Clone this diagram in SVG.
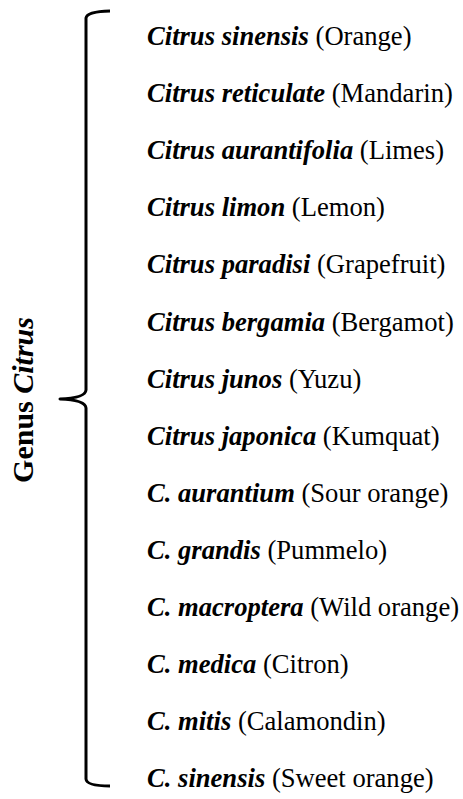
<svg xmlns="http://www.w3.org/2000/svg" width="463" height="799" viewBox="0 0 463 799">
<style>
text{font-family:"Liberation Serif","Times New Roman",serif;fill:#000}
.it{font-size:26.6px}
.b{font-weight:bold;font-style:italic}
.lab{font-size:30px;font-weight:bold}
.brace{fill:none;stroke:#000;stroke-width:3;stroke-linecap:butt;stroke-linejoin:round}
</style>
<rect width="463" height="799" fill="#fff"/>
<g id="label">
<text class="lab" transform="translate(33,400) rotate(-90)" text-anchor="middle">Genus <tspan font-style="italic">Citrus</tspan></text>
</g>
<g id="connectors">
<path class="brace" d="M110,11 Q87,11.5 86,18 L86,390 Q85.5,398 60,399 Q85.5,400 86,408 L86,779 Q86.5,786 110,786"/>
</g>
<g id="species">
<g id="s1"><text class="it" x="147" y="45"><tspan class="b">Citrus sinensis</tspan> (Orange)</text></g>
<g id="s2"><text class="it" x="147" y="102.1"><tspan class="b">Citrus reticulate</tspan> (Mandarin)</text></g>
<g id="s3"><text class="it" x="147" y="159.2"><tspan class="b">Citrus aurantifolia</tspan> (Limes)</text></g>
<g id="s4"><text class="it" x="147" y="216.3"><tspan class="b">Citrus limon</tspan> (Lemon)</text></g>
<g id="s5"><text class="it" x="147" y="273.4"><tspan class="b">Citrus paradisi</tspan> (Grapefruit)</text></g>
<g id="s6"><text class="it" x="147" y="330.5"><tspan class="b">Citrus bergamia</tspan> (Bergamot)</text></g>
<g id="s7"><text class="it" x="147" y="387.6"><tspan class="b">Citrus junos</tspan> (Yuzu)</text></g>
<g id="s8"><text class="it" x="147" y="444.7"><tspan class="b">Citrus japonica</tspan> (Kumquat)</text></g>
<g id="s9"><text class="it" x="147" y="501.8"><tspan class="b">C. aurantium</tspan> (Sour orange)</text></g>
<g id="s10"><text class="it" x="147" y="558.9"><tspan class="b">C. grandis</tspan> (Pummelo)</text></g>
<g id="s11"><text class="it" x="147" y="616"><tspan class="b">C. macroptera</tspan> (Wild orange)</text></g>
<g id="s12"><text class="it" x="147" y="673.1"><tspan class="b">C. medica</tspan> (Citron)</text></g>
<g id="s13"><text class="it" x="147" y="730.2"><tspan class="b">C. mitis</tspan> (Calamondin)</text></g>
<g id="s14"><text class="it" x="147" y="787.3"><tspan class="b">C. sinensis</tspan> (Sweet orange)</text></g>
</g>
</svg>
